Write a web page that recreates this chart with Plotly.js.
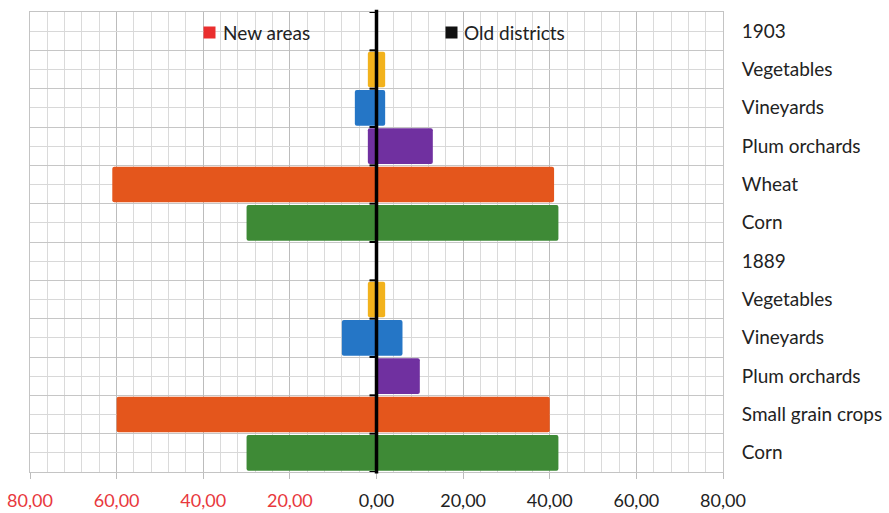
<!DOCTYPE html>
<html>
<head>
<meta charset="utf-8">
<script src="https://cdn.plot.ly/plotly-3.0.1.min.js"></script>
<style>
  html, body { margin: 0; padding: 0; background: #fff; }
  #chart { width: 889px; height: 513px; }
</style>
</head>
<body>
<div id="chart"></div>
<script>
// Row labels, top to bottom (year rows are headers with no bars)
const categories = ['1903', 'Vegetables', 'Vineyards', 'Plum orchards', 'Wheat', 'Corn',
                    '1889', 'Vegetables', 'Vineyards', 'Plum orchards', 'Small grain crops', 'Corn'];
// Share of area (%) — new areas drawn to the left, old districts to the right
const newAreas     = [null, 2, 5, 2, 61, 30, null, 2, 8, 0, 60, 30];
const oldDistricts = [null, 2, 2, 13, 41, 42, null, 2, 6, 10, 40, 42];
const cropColors   = [null, '#F2B21C', '#2576C6', '#7030A0', '#E4561C', '#3E8A36',
                      null, '#F2B21C', '#2576C6', '#7030A0', '#E4561C', '#3E8A36'];
const xTickVals    = [-80, -60, -40, -20, 0, 20, 40, 60, 80];
const xTickText    = ['80,00', '60,00', '40,00', '20,00', '0,00', '20,00', '40,00', '60,00', '80,00'];
const seriesNames  = ['New areas', 'Old districts'];
const seriesKeys   = ['#EA2E2E', '#111111'];

const rowIdx = categories.map((_, i) => i);
const leftVals = newAreas.map(v => (v === null ? null : -v));
const RED = '#E8383D';

const tickText = xTickText.map((t, i) =>
  xTickVals[i] < 0 ? '<span style="color:' + RED + '">' + t + '</span>' : t);

const barCommon = {
  type: 'bar',
  orientation: 'h',
  y: rowIdx,
  width: 0.93,
  showlegend: false,
  hoverinfo: 'x+y',
  marker: { color: cropColors, cornerradius: 2, line: { width: 0 } }
};

const traces = [
  Object.assign({}, barCommon, { name: seriesNames[0], x: leftVals }),
  Object.assign({}, barCommon, { name: seriesNames[1], x: oldDistricts })
];

// Black axis at zero with small ticks at every row boundary
const shapes = [{
  type: 'line', layer: 'above', xref: 'x', yref: 'paper',
  x0: 0, x1: 0, y0: -0.003, y1: 1.005,
  line: { color: '#000', width: 3.5 }
}];
for (let b = -0.5; b <= categories.length - 0.5; b += 1) {
  shapes.push({
    type: 'line', layer: 'above', xref: 'x', yref: 'y',
    xsizemode: 'pixel', xanchor: 0, x0: -7, x1: 0,
    y0: b, y1: b,
    line: { color: '#000', width: 2 }
  });
}

// Key at the top of the plot: a coloured square and the series name
const keyY = 0.9565;
const keyPos = [{ sq: 0.2597, txt: 0.2755 }, { sq: 0.6089, txt: 0.6235 }];
const annotations = [];
seriesNames.forEach((name, i) => {
  annotations.push({
    xref: 'paper', yref: 'paper', x: keyPos[i].sq, y: keyY,
    xanchor: 'center', yanchor: 'middle', showarrow: false,
    text: ' ', width: 11, height: 11, borderpad: 0, bgcolor: seriesKeys[i]
  });
  annotations.push({
    xref: 'paper', yref: 'paper', x: keyPos[i].txt, y: keyY,
    xanchor: 'left', yanchor: 'middle', showarrow: false,
    text: name, font: { size: 19 }
  });
});

const layout = {
  width: 889,
  height: 513,
  margin: { l: 30, r: 166, t: 12, b: 41 },
  paper_bgcolor: '#fff',
  plot_bgcolor: '#fff',
  font: { family: 'Lato, "Open Sans", sans-serif', size: 18, color: '#222' },
  barmode: 'overlay',
  xaxis: {
    range: [-80, 80],
    tickmode: 'array',
    tickvals: xTickVals,
    ticktext: tickText,
    ticks: 'outside',
    ticklen: 6,
    tickcolor: '#bcbcbc',
    ticklabelstandoff: 6,
    tickfont: { size: 18 },
    showgrid: true,
    gridcolor: '#bcbcbc',
    gridwidth: 1,
    minor: { tickmode: 'linear', tick0: -80, dtick: 4, showgrid: true, gridcolor: '#dadada', gridwidth: 1 },
    zeroline: false,
    showline: true,
    mirror: true,
    linecolor: '#c4c4c4',
    fixedrange: true
  },
  yaxis: {
    range: [categories.length - 0.5, -0.5],
    tickmode: 'array',
    tickvals: rowIdx,
    ticktext: categories,
    side: 'right',
    ticks: '',
    ticklabelstandoff: 14,
    tickfont: { size: 19 },
    showgrid: true,
    gridcolor: '#d8d8d8',
    gridwidth: 1,
    minor: { tickmode: 'linear', tick0: -0.5, dtick: 1, showgrid: true, gridcolor: '#c6c6c6', gridwidth: 1 },
    zeroline: false,
    showline: true,
    mirror: true,
    linecolor: '#c4c4c4',
    fixedrange: true
  },
  shapes: shapes,
  annotations: annotations
};

Plotly.newPlot('chart', traces, layout, { displayModeBar: false, staticPlot: true });
</script>
</body>
</html>
